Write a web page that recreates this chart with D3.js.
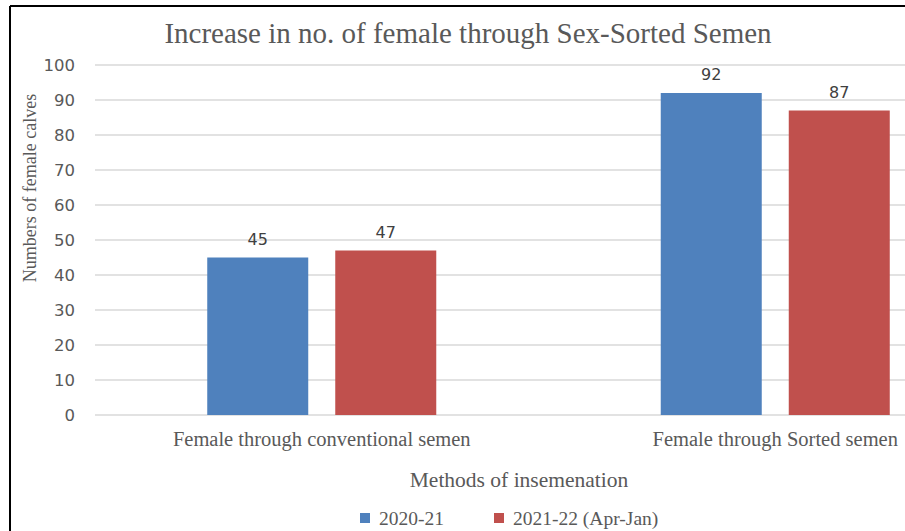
<!DOCTYPE html>
<html>
<head>
<meta charset="utf-8">
<script src="https://cdn.jsdelivr.net/npm/d3@7"></script>
<style>
  body { margin: 0; background: #fff; }
  svg { display: block; }
</style>
</head>
<body>
<script>
// data
var categories = ["Female through conventional semen", "Female through Sorted semen"];
var seriesNames = ["2020-21", "2021-22 (Apr-Jan)"];
var values2020 = [45, 92];
var values2021 = [47, 87];
var yTicks = [0, 10, 20, 30, 40, 50, 60, 70, 80, 90, 100];
var colors = ["#4F81BD", "#C0504D"];

var W = 905, H = 531;
var serif = "'Liberation Serif', 'Times New Roman', serif";
var sans = "'DejaVu Sans', Verdana, sans-serif";

var svg = d3.select("body").append("svg")
    .attr("width", W)
    .attr("height", H);

// frame lines (picture is cropped on right and bottom)
svg.append("line").attr("x1", 10).attr("x2", W).attr("y1", 6).attr("y2", 6)
    .attr("stroke", "#000").attr("stroke-width", 2);
svg.append("line").attr("x1", 10).attr("x2", 10).attr("y1", 6).attr("y2", H)
    .attr("stroke", "#000").attr("stroke-width", 2);

// plot area runs past the right edge of the picture
var x0 = d3.scaleBand().domain(categories).range([95, 1002]).paddingInner(0.495).paddingOuter(0.2475);
var x1 = d3.scaleBand().domain(seriesNames).range([0, x0.bandwidth()]).paddingInner(0.211);
var y = d3.scaleLinear().domain([0, 100]).range([415, 65]);

// gridlines
svg.append("g").selectAll("line").data(yTicks).join("line")
    .attr("x1", 95).attr("x2", W)
    .attr("y1", function(d) { return y(d); })
    .attr("y2", function(d) { return y(d); })
    .attr("stroke", "#d9d9d9").attr("stroke-width", 1.3);

// y axis tick labels
svg.append("g").selectAll("text").data(yTicks).join("text")
    .attr("x", 75)
    .attr("y", function(d) { return y(d); })
    .attr("dy", "0.35em")
    .attr("text-anchor", "end")
    .attr("font-family", sans)
    .attr("font-size", 16.5)
    .attr("fill", "#595959")
    .text(function(d) { return d; });

// bars
var rows = categories.map(function(c, i) {
  return { cat: c, vals: [values2020[i], values2021[i]] };
});

var groups = svg.append("g").selectAll("g").data(rows).join("g")
    .attr("transform", function(d) { return "translate(" + x0(d.cat) + ",0)"; });

groups.selectAll("rect").data(function(d) {
    return d.vals.map(function(v, j) { return { key: seriesNames[j], v: v, j: j }; });
  }).join("rect")
    .attr("x", function(d) { return x1(d.key); })
    .attr("y", function(d) { return y(d.v); })
    .attr("width", x1.bandwidth())
    .attr("height", function(d) { return y(0) - y(d.v); })
    .attr("fill", function(d) { return colors[d.j]; });

// value labels
groups.selectAll("text").data(function(d) {
    return d.vals.map(function(v, j) { return { key: seriesNames[j], v: v }; });
  }).join("text")
    .attr("x", function(d) { return x1(d.key) + x1.bandwidth() / 2; })
    .attr("y", function(d) { return y(d.v) - 13; })
    .attr("text-anchor", "middle")
    .attr("font-family", sans)
    .attr("font-size", 16)
    .attr("fill", "#404040")
    .text(function(d) { return d.v; });

// category labels
svg.append("g").selectAll("text").data(categories).join("text")
    .attr("x", function(d) { return x0(d) + x0.bandwidth() / 2; })
    .attr("y", 446)
    .attr("text-anchor", "middle")
    .attr("font-family", serif)
    .attr("font-size", 20.5)
    .attr("fill", "#595959")
    .text(function(d) { return d; });

// title
svg.append("text")
    .attr("x", 468).attr("y", 43)
    .attr("text-anchor", "middle")
    .attr("font-family", serif)
    .attr("font-size", 29)
    .attr("fill", "#595959")
    .text("Increase in no. of female through Sex-Sorted Semen");

// axis titles
svg.append("text")
    .attr("x", 519).attr("y", 487)
    .attr("text-anchor", "middle")
    .attr("font-family", serif)
    .attr("font-size", 21.5)
    .attr("fill", "#595959")
    .text("Methods of insemenation");

svg.append("text")
    .attr("transform", "translate(36,188) rotate(-90)")
    .attr("text-anchor", "middle")
    .attr("font-family", serif)
    .attr("font-size", 18)
    .attr("fill", "#595959")
    .text("Numbers of female calves");

// legend
var legendX = [360, 494];
var legend = svg.append("g").selectAll("g").data(seriesNames).join("g")
    .attr("transform", function(d, i) { return "translate(" + legendX[i] + ",518)"; });
legend.append("rect")
    .attr("x", 0).attr("y", -5)
    .attr("width", 10).attr("height", 10)
    .attr("fill", function(d, i) { return colors[i]; });
legend.append("text")
    .attr("x", 19).attr("y", 0).attr("dy", "0.35em")
    .attr("font-family", serif)
    .attr("font-size", 19.5)
    .attr("fill", "#595959")
    .text(function(d) { return d; });
</script>
</body>
</html>
